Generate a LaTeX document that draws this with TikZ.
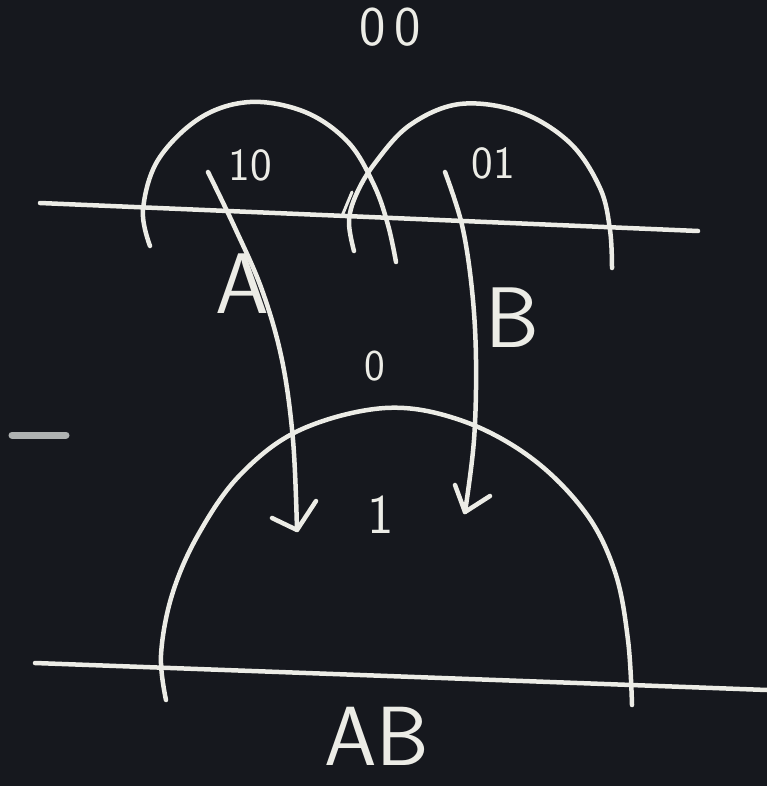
\documentclass[tikz,border=0pt]{standalone}
\usepackage{tikz}
\definecolor{board}{RGB}{22,24,30}
\definecolor{chalk}{RGB}{236,236,230}
\definecolor{chalkdim}{RGB}{175,178,178}
\begin{document}
\begin{tikzpicture}[x=1pt,y=-1pt,
  chalkline/.style={draw=chalk,line width=4.5pt,line cap=round,line join=round},
  chalktext/.style={text=chalk,font=\sffamily,inner sep=0pt},
]
\fill[board] (0,0) rectangle (767,786);
\useasboundingbox (0,0) rectangle (767,786);

% top axis line
\coordinate (t1) at (40,203);
\coordinate (t2) at (698,231);
\draw[chalkline] (t1) -- (t2);

% left arc (10)
\draw[chalkline] plot[smooth,tension=0.6] coordinates {(150,246) (143,210) (158,160) (200,118) (250,102) (305,112) (348,142) (374,185) (388,225) (396,262)};
% right arc (01)
\draw[chalkline] plot[smooth,tension=0.6] coordinates {(354,251) (349,222) (356,195) (375,163) (410,125) (460,104) (520,112) (570,143) (600,188) (610,230) (612,268)};
% small hook at crossing
\draw[chalkline,line width=3pt] (342,216) -- (352,192);

% bottom axis line
\coordinate (b1) at (35,663);
\coordinate (b2) at (767,690);
\draw[chalkline] (b1) -- (b2);

% big arc
\draw[chalkline] plot[smooth,tension=0.6] coordinates {(166,700) (161,655) (172,595) (198,535) (240,475) (300,430) (385,408) (460,420) (530,457) (585,512) (615,572) (628,640) (632,705)};

% arrow A
\coordinate (aS) at (208,172);
\coordinate (aT) at (297,530);
\draw[chalkline] plot[smooth,tension=0.6] coordinates {(208,172) (235,228) (262,290) (282,360) (293,440) (297,530)};
\draw[chalkline] (272,518) -- (aT) -- (316,501);

% arrow B
\coordinate (bS) at (445,172);
\coordinate (bT) at (465,512);
\draw[chalkline] plot[smooth,tension=0.6] coordinates {(445,172) (462,225) (472,290) (476,360) (474,440) (465,512)};
\draw[chalkline] (455,485) -- (bT) -- (490,496);

% left dash
\draw[draw=chalkdim,line width=7pt,line cap=round] (12,435) -- (66,435);

% labels
\node[chalktext,font=\sffamily\fontsize{56}{56}\selectfont] (l00) at (390,27) {0\,0};
\node[chalktext,font=\sffamily\fontsize{46}{46}\selectfont] (l10) at (250,165) {10};
\node[chalktext,font=\sffamily\fontsize{46}{46}\selectfont] (l01) at (493,163) {01};
\node[chalktext,font=\sffamily\fontsize{86}{86}\selectfont] (lA) at (242,284) {A};
\node[chalktext,font=\sffamily\fontsize{86}{86}\selectfont] (lB) at (512,318) {B};
\node[chalktext,font=\sffamily\fontsize{44}{44}\selectfont] (l0) at (375,366) {0};
\node[chalktext,font=\sffamily\fontsize{56}{56}\selectfont] (l1) at (381,515) {1};
\node[chalktext,font=\sffamily\fontsize{84}{84}\selectfont] (lAB) at (377,736) {AB};
\end{tikzpicture}
\end{document}
